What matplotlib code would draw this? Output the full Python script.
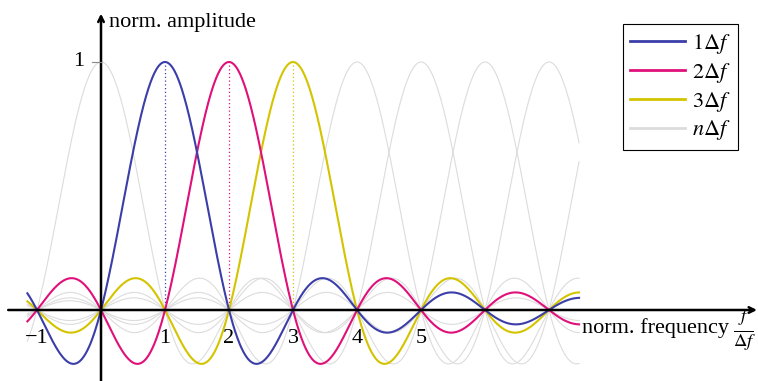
import numpy as np
import matplotlib
matplotlib.use("Agg")
import matplotlib.pyplot as plt

plt.rcParams['font.family'] = ['Liberation Serif', 'DejaVu Serif']
plt.rcParams['mathtext.fontset'] = 'stix'

# subcarriers: sinc spectra centred on integer multiples of delta f
centers = [1, 2, 3]
colors = ['#3b3ea8', '#e0107a', '#d4c400']
labels = [r'$1\Delta f$', r'$2\Delta f$', r'$3\Delta f$']
gray_centers = [0, 4, 5, 6, 7, 8]
gray_label = r'$n\Delta f$'
xtick_vals = [-1, 1, 2, 3, 4, 5]
xtick_text = ['\u22121', '1', '2', '3', '4', '5']
f_min, f_max = -1.15, 7.47

f = np.linspace(f_min, f_max, 1200)

fig = plt.figure(figsize=(7.58, 3.81), dpi=100)
ax = fig.add_axes([0, 0, 1, 1])
# pixel layout: f=0 at x=101, 64 px per unit; amplitude 0 at y=310, 248 px per unit
ax.set_xlim(-101 / 64, (758 - 101) / 64)
ax.set_ylim(-(381 - 310) / 248, 310 / 248)
ax.axis('off')

for c in gray_centers:
    ax.plot(f, np.sinc(f - c), color='#dcdcdc', lw=0.8, zorder=1)

for c, col in zip(centers, colors):
    ax.plot([c, c], [0, 1], color=col, lw=0.9, ls=(0, (1, 2)), zorder=2)

for c, col in zip(reversed(centers), reversed(colors)):
    ax.plot(f, np.sinc(f - c), color=col, lw=1.5, zorder=3)

# axes with arrows
ax.annotate('', xy=(10.25, 0), xytext=(-1.45, 0),
            arrowprops=dict(arrowstyle='->', lw=1.8, color='black', shrinkA=0, shrinkB=0),
            zorder=4)
ax.annotate('', xy=(0, 1.195), xytext=(0, -0.29),
            arrowprops=dict(arrowstyle='->', lw=1.8, color='black', shrinkA=0, shrinkB=0),
            zorder=4)

# y tick
ax.plot([-0.14, 0], [1, 1], color='#888888', lw=0.8, zorder=4)
ax.text(-0.26, 1, '1', ha='right', va='center', fontsize=16)

for v, t in zip(xtick_vals, xtick_text):
    ax.text(v, -0.133, t, ha='center', va='baseline', fontsize=16)

ax.text(0.12, 1.141, 'norm. amplitude', ha='left', va='baseline', fontsize=16)
ax.text(7.52, -0.093, 'norm. frequency', ha='left', va='baseline', fontsize=16)
ax.text(9.88, -0.082, r'$\frac{f}{\Delta f}$', ha='left', va='center', fontsize=19)

handles = [plt.Line2D([], [], color=col, lw=2) for col in colors]
handles.append(plt.Line2D([], [], color='#dcdcdc', lw=2))
leg = fig.legend(handles, labels + [gray_label], loc='upper right',
                 bbox_to_anchor=(738 / 758, 1 - 24 / 381), borderaxespad=0,
                 fontsize=16, fancybox=False, framealpha=1, handlelength=2.45,
                 handletextpad=0.3, borderpad=0.35, labelspacing=0.22,
                 edgecolor='black')
leg.get_frame().set_linewidth(0.8)

fig.savefig('out.png', dpi=100)
